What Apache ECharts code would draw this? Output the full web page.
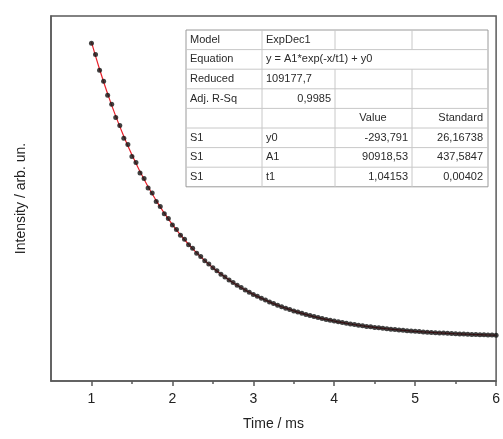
<!DOCTYPE html>
<html>
<head>
<meta charset="utf-8">
<script src="https://cdn.jsdelivr.net/npm/echarts@6/dist/echarts.min.js"></script>
<style>
html,body{margin:0;padding:0;background:#fff;}
#chart{width:503px;height:439px;}
</style>
</head>
<body>
<div id="chart"></div>
<script>
// ---- data ----
var timeMs = [1.00,1.05,1.10,1.15,1.20,1.25,1.30,1.35,1.40,1.45,1.50,1.55,1.60,1.65,1.70,1.75,1.80,1.85,1.90,1.95,
  2.00,2.05,2.10,2.15,2.20,2.25,2.30,2.35,2.40,2.45,2.50,2.55,2.60,2.65,2.70,2.75,2.80,2.85,2.90,2.95,
  3.00,3.05,3.10,3.15,3.20,3.25,3.30,3.35,3.40,3.45,3.50,3.55,3.60,3.65,3.70,3.75,3.80,3.85,3.90,3.95,
  4.00,4.05,4.10,4.15,4.20,4.25,4.30,4.35,4.40,4.45,4.50,4.55,4.60,4.65,4.70,4.75,4.80,4.85,4.90,4.95,
  5.00,5.05,5.10,5.15,5.20,5.25,5.30,5.35,5.40,5.45,5.50,5.55,5.60,5.65,5.70,5.75,5.80,5.85,5.90,5.95,6.00];
var intensity = [34400,33050,31200,29900,28250,27200,25650,24700,23200,22450,21050,20350,19100,18450,17350,16750,15750,15150,14300,13750,
  12980,12450,11770,11290,10660,10230,9660,9260,8760,8380,7930,7590,7180,6860,6500,6210,5880,5610,5310,5070,
  4800,4575,4335,4130,3910,3725,3525,3360,3175,3025,2858,2720,2570,2445,2308,2195,2070,1968,1853,1760,
  1657,1572,1478,1400,1316,1246,1168,1105,1035,977,913,861,802,756,702,659,610,573,527,493,
  452,422,384,356,321,297,265,244,214,194,167,150,125,109,86,73,51,40,19,9,-10];
var fitTime = [1.0,1.1,1.2,1.3,1.4,1.5,1.6,1.7,1.8,1.9,2.0,2.1,2.2,2.3,2.4,2.5,2.6,2.7,2.8,2.9,
  3.0,3.1,3.2,3.3,3.4,3.5,3.6,3.7,3.8,3.9,4.0,4.1,4.2,4.3,4.4,4.5,4.6,4.7,4.8,4.9,
  5.0,5.1,5.2,5.3,5.4,5.5,5.6,5.7,5.8,5.9,6.0];
var fitIntensity = [34514,31327,28432,25803,23414,21243,19272,17480,15853,14375,13032,11812,10704,9697,8782,7951,7197,6511,5888,5322,
  4808,4341,3917,3531,3181,2863,2574,2311,2073,1856,1659,1481,1318,1171,1037,915,804,704,612,529,
  454,386,323,267,216,169,127,88,53,21,-8];
var xMajorTicks = [1,2,3,4,5,6];
var xMinorTicks = [1.5,2.5,3.5,4.5,5.5];
var tableCol1 = ['Model','Equation','Reduced','Adj. R-Sq','','S1','S1','S1'];
var tableCol2 = ['ExpDec1','y = A1*exp(-x/t1) + y0','109177,7','0,9985','','y0','A1','t1'];
var tableCol3 = ['','','','','Value','-293,791','90918,53','1,04153'];
var tableCol4 = ['','','','','Standard','26,16738','437,5847','0,00402'];

// ---- build ----
var scatterData = timeMs.map(function(t,i){return [t,intensity[i]];});
var fitData = fitTime.map(function(t,i){return [t,fitIntensity[i]];});

var FONT = '"Liberation Sans", Arial, sans-serif';
var tX = [186,262,335,412,488];
var tTop = 30, rowH = 19.6, nRows = 8;
var g = [];
g.push({type:'rect', shape:{x:tX[0],y:tTop,width:tX[4]-tX[0],height:rowH*nRows},
  style:{fill:'#fff',stroke:'#9a9a9a',lineWidth:1}, z:10});
for (var r=1;r<nRows;r++){
  g.push({type:'line', shape:{x1:tX[0],y1:tTop+r*rowH,x2:tX[4],y2:tTop+r*rowH}, style:{stroke:'#c8c8c8',lineWidth:1}, z:11});
}
g.push({type:'line', shape:{x1:tX[1],y1:tTop,x2:tX[1],y2:tTop+rowH*nRows}, style:{stroke:'#c8c8c8',lineWidth:1}, z:11});
[2,3].forEach(function(c){
  g.push({type:'line', shape:{x1:tX[c],y1:tTop,x2:tX[c],y2:tTop+rowH}, style:{stroke:'#c8c8c8',lineWidth:1}, z:11});
  g.push({type:'line', shape:{x1:tX[c],y1:tTop+2*rowH,x2:tX[c],y2:tTop+rowH*nRows}, style:{stroke:'#c8c8c8',lineWidth:1}, z:11});
});
function cell(txt,x,row,align){
  if(!txt) return;
  g.push({type:'text', x:x, y:tTop+rowH*(row+0.5), z:12,
    style:{text:txt, fill:'#2a2a2a', font:'11px '+FONT, textAlign:align, textVerticalAlign:'middle'}});
}
for (var i=0;i<nRows;i++){
  cell(tableCol1[i], 190, i, 'left');
  if (i===3) cell(tableCol2[i], 331, i, 'right'); else cell(tableCol2[i], 266, i, 'left');
  if (i===4) cell(tableCol3[i], 373, i, 'center'); else cell(tableCol3[i], 408, i, 'right');
  cell(tableCol4[i], 483, i, 'right');
}

var chart = echarts.init(document.getElementById('chart'), null, {renderer:'canvas'});
chart.setOption({
  animation:false,
  backgroundColor:'#fff',
  grid:{left:51,right:6,top:16,bottom:58,show:true,borderColor:'#5a5a5a',borderWidth:1.5,backgroundColor:'transparent'},
  xAxis:[{
    type:'value', min:0.5, max:6,
    name:'Time / ms', nameLocation:'middle', nameGap:36,
    nameTextStyle:{fontFamily:FONT,fontSize:14,color:'#222'},
    axisLine:{show:true,onZero:false,lineStyle:{color:'#5a5a5a',width:1.5}},
    axisTick:{show:true,inside:false,length:5,customValues:xMajorTicks,lineStyle:{color:'#5a5a5a',width:1.5}},
    axisLabel:{show:true,customValues:xMajorTicks,margin:11,fontFamily:FONT,fontSize:14,color:'#222'},
    splitLine:{show:false}
  },{
    type:'value', min:0.5, max:6, position:'bottom',
    axisLine:{show:false,onZero:false},
    axisTick:{show:true,inside:false,length:3,customValues:xMinorTicks,lineStyle:{color:'#5a5a5a',width:1.5}},
    axisLabel:{show:false},
    splitLine:{show:false}
  }],
  yAxis:{
    type:'value', min:-5400, max:37600,
    name:'Intensity / arb. un.', nameLocation:'middle', nameGap:23,
    nameTextStyle:{fontFamily:FONT,fontSize:14,color:'#222'},
    axisLine:{show:true,onZero:false,lineStyle:{color:'#5a5a5a',width:1.5}},
    axisTick:{show:false}, axisLabel:{show:false}, splitLine:{show:false}
  },
  series:[{
    type:'line', data:fitData, smooth:true, showSymbol:false, symbol:'none',
    lineStyle:{color:'#e8202a',width:1.2}, z:2
  },{
    type:'scatter', data:scatterData, symbol:'circle', symbolSize:5,
    itemStyle:{color:'#111'}, z:3
  }],
  graphic:g
});
</script>
</body>
</html>
